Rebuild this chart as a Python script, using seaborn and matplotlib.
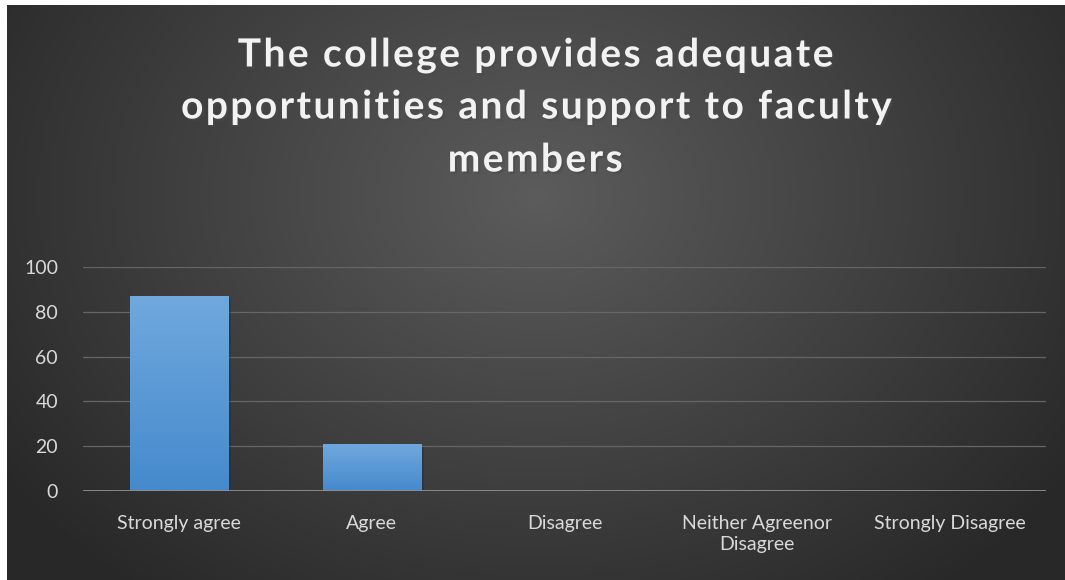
import numpy as np
import matplotlib
matplotlib.use("Agg")
import matplotlib.pyplot as plt
import matplotlib.patheffects as pe
import seaborn as sns
import pandas as pd

# data
categories = ["Strongly agree", "Agree", "Disagree", "Neither Agreenor\nDisagree", "Strongly Disagree"]
values = [87, 21, 0, 0, 0]
yticks = [0, 20, 40, 60, 80, 100]
title_lines = ["The college provides adequate",
               "opportunities and support to faculty",
               "members"]

df = pd.DataFrame({"category": categories, "value": values})

sns.set_style("dark")
plt.rcParams["font.family"] = ["Lato", "DejaVu Sans"]

W, H = 1065, 580
fig = plt.figure(figsize=(W / 100, H / 100), dpi=100)
fig.patch.set_facecolor("white")

# dark radial background panel
bg = fig.add_axes([7 / W, 0, 1 - 7 / W, 1 - 5 / H])
bg.set_axis_off()
yy, xx = np.mgrid[0:575, 0:1058]
r = np.sqrt(((xx - 530) / 640) ** 2 + ((yy - 190) / 500) ** 2)
r = np.clip(r, 0, 1)
shade = 0.36 - 0.20 * r
bg.imshow(np.dstack([shade, shade, shade]), aspect="auto", extent=[0, 1, 0, 1], origin="upper")
bg.set_xlim(0, 1)
bg.set_ylim(0, 1)

ax = fig.add_axes([83 / W, 1 - 491 / H, (1046 - 83) / W, (491 - 267) / H])
ax.patch.set_alpha(0)
sns.barplot(data=df, x="category", y="value", ax=ax, width=0.51, color="#5b9bd5",
            edgecolor="none", saturation=1)

# gradient on bars
grad = np.linspace(0, 1, 256)
top = np.array([0.44, 0.66, 0.87])
bot = np.array([0.27, 0.54, 0.80])
cols = (top + (bot - top) * grad[:, None])[:, None, :]
for p in ax.patches:
    if p.get_height() <= 0:
        continue
    x0, y0 = p.get_x(), p.get_y()
    w, h = p.get_width(), p.get_height()
    im = ax.imshow(cols, extent=[x0, x0 + w, y0, y0 + h], aspect="auto", origin="upper", zorder=3)
    im.set_clip_path(p)
    p.set_path_effects([pe.SimplePatchShadow(offset=(2, -2), alpha=0.4), pe.Normal()])

ax.set_xlim(-0.5, len(categories) - 0.5)
ax.set_ylim(0, 100)
ax.set_yticks(yticks)
ax.yaxis.grid(True, color="#666666", linewidth=0.9)
ax.xaxis.grid(False)
ax.axhline(0, color="#8f8f8f", linewidth=2, zorder=4)
for s in ax.spines.values():
    s.set_visible(False)
ax.set_xlabel("")
ax.set_ylabel("")
ax.tick_params(axis="both", length=0, colors="#d9d9d9", labelsize=14)
ax.tick_params(axis="x", pad=17)
ax.tick_params(axis="y", pad=18)
ax.set_xticks(range(len(categories)))
ax.set_xticklabels(categories, linespacing=1.3)

# title with letter spacing (hair spaces between characters)
line_y = [55, 107, 160]
for txt, y in zip(title_lines, line_y):
    spaced = "\u200a".join(txt)
    fig.text(535 / W, 1 - y / H, spaced, ha="center", va="center", color="#f2f2f2",
             fontsize=28, fontweight="bold",
             path_effects=[pe.withSimplePatchShadow(offset=(1.5, -1.5), alpha=0.6)])

fig.savefig("out.png", dpi=100)
